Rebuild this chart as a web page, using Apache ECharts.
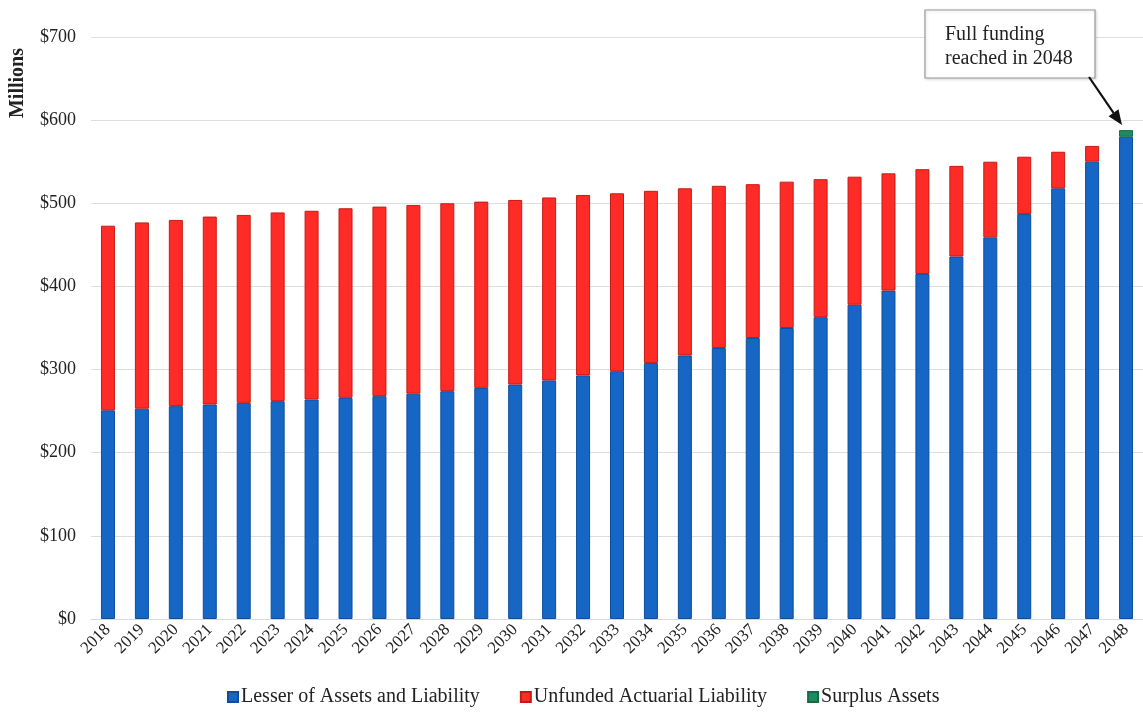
<!DOCTYPE html>
<html>
<head>
<meta charset="utf-8">
<script src="https://cdn.jsdelivr.net/npm/echarts@6/dist/echarts.min.js"></script>
<style>
  html, body { margin: 0; padding: 0; background: #fff; }
  #chart { width: 1143px; height: 712px; }
</style>
</head>
<body>
<div id="chart"></div>
<script>
// Projection years
const years = ['2018','2019','2020','2021','2022','2023','2024','2025','2026','2027','2028',
  '2029','2030','2031','2032','2033','2034','2035','2036','2037','2038','2039','2040',
  '2041','2042','2043','2044','2045','2046','2047','2048'];

// Lesser of assets and liability ($ millions)
const lesser = [251, 253, 256, 258, 260, 262, 264, 266, 268, 271, 274, 278, 282, 287, 293, 298,
  308, 317, 326, 338, 350, 363, 378, 395, 415, 436, 459, 487, 518, 550, 580];

// Unfunded actuarial liability ($ millions)
const unfunded = [222, 224, 224, 226, 226, 227, 227, 228, 228, 227, 226, 224, 222, 220, 217, 214,
  207, 201, 195, 185, 176, 166, 154, 141, 126, 109, 91, 69, 44, 19, 0];

// Surplus assets ($ millions)
const surplus = [0, 0, 0, 0, 0, 0, 0, 0, 0, 0, 0, 0, 0, 0, 0, 0,
  0, 0, 0, 0, 0, 0, 0, 0, 0, 0, 0, 0, 0, 0, 8];

const yTicks = [0, 100, 200, 300, 400, 500, 600, 700];

const serif = '"Liberation Serif", "Times New Roman", serif';

// zero-height segments are left empty so no stray border is drawn
const noZero = arr => arr.map(v => (v === 0 ? '-' : v));

const chart = echarts.init(document.getElementById('chart'), null, { renderer: 'canvas' });

chart.setOption({
  backgroundColor: '#ffffff',
  animation: false,
  grid: { left: 91, right: -5, top: 37, bottom: 93, containLabel: false },
  legend: {
    bottom: 0,
    left: 222,
    icon: 'rect',
    itemWidth: 10,
    itemHeight: 10,
    itemGap: 40,
    textStyle: { fontFamily: serif, fontSize: 20, color: '#222', padding: [0, 0, 0, -2] },
    data: ['Lesser of Assets and Liability', 'Unfunded Actuarial Liability', 'Surplus Assets']
  },
  xAxis: {
    type: 'category',
    data: years,
    axisLine: { show: true, lineStyle: { color: '#d9d9d9', width: 1 } },
    axisTick: { show: false },
    axisLabel: { rotate: 45, fontFamily: serif, fontSize: 17, color: '#222', margin: 8, interval: 0 }
  },
  yAxis: {
    type: 'value',
    min: yTicks[0],
    max: yTicks[yTicks.length - 1],
    interval: 100,
    axisLine: { show: false },
    axisTick: { show: false },
    splitLine: { lineStyle: { color: '#dedede', width: 1 } },
    axisLabel: { fontFamily: serif, fontSize: 18, color: '#222', margin: 15, formatter: v => '$' + v }
  },
  series: [
    {
      name: 'Lesser of Assets and Liability', type: 'bar', stack: 'total', barWidth: 14,
      itemStyle: { color: '#1666c5', borderColor: '#0e4d9e', borderWidth: 1 },
      data: noZero(lesser)
    },
    {
      name: 'Unfunded Actuarial Liability', type: 'bar', stack: 'total', barWidth: 14,
      itemStyle: { color: '#ff2b26', borderColor: '#c81a14', borderWidth: 1 },
      data: noZero(unfunded)
    },
    {
      name: 'Surplus Assets', type: 'bar', stack: 'total', barWidth: 14,
      itemStyle: { color: '#1e8c5e', borderColor: '#146b45', borderWidth: 1 },
      data: noZero(surplus)
    }
  ]
});

// Annotation box with an arrow pointing at the final year's bar
const last = years.length - 1;
const topVal = lesser[last] + unfunded[last] + surplus[last];
const tip = chart.convertToPixel({ xAxisIndex: 0, yAxisIndex: 0 }, [years[last], topVal]);
const start = [1089, 77];
const end = [tip[0] - 4, tip[1] - 5];
const ang = Math.atan2(end[1] - start[1], end[0] - start[0]);
const headLen = 15, headW = 6;
const bx = end[0] - headLen * Math.cos(ang), by = end[1] - headLen * Math.sin(ang);
const nx = -Math.sin(ang), ny = Math.cos(ang);

chart.setOption({
  graphic: [
    {
      type: 'text', x: 18, y: 83, rotation: Math.PI / 2,
      style: { text: 'Millions', fontFamily: serif, fontSize: 20, fontWeight: 'bold', fill: '#222',
               align: 'center', verticalAlign: 'middle' }
    },
    {
      type: 'rect', shape: { x: 925, y: 10, width: 170, height: 68 },
      style: { fill: '#fff', stroke: '#9a9a9a', lineWidth: 1.2,
               shadowColor: 'rgba(0,0,0,0.15)', shadowBlur: 3, shadowOffsetX: 1, shadowOffsetY: 1 }
    },
    {
      type: 'text', x: 945, y: 23,
      style: { text: 'Full funding\nreached in 2048', fontFamily: serif, fontSize: 20, lineHeight: 24,
               fill: '#222', align: 'left', verticalAlign: 'top' }
    },
    {
      type: 'line', shape: { x1: start[0], y1: start[1], x2: bx, y2: by },
      style: { stroke: '#111', lineWidth: 2.2 }
    },
    {
      type: 'polygon',
      shape: { points: [[end[0], end[1]], [bx + nx * headW, by + ny * headW], [bx - nx * headW, by - ny * headW]] },
      style: { fill: '#111' }
    }
  ]
});
</script>
</body>
</html>
